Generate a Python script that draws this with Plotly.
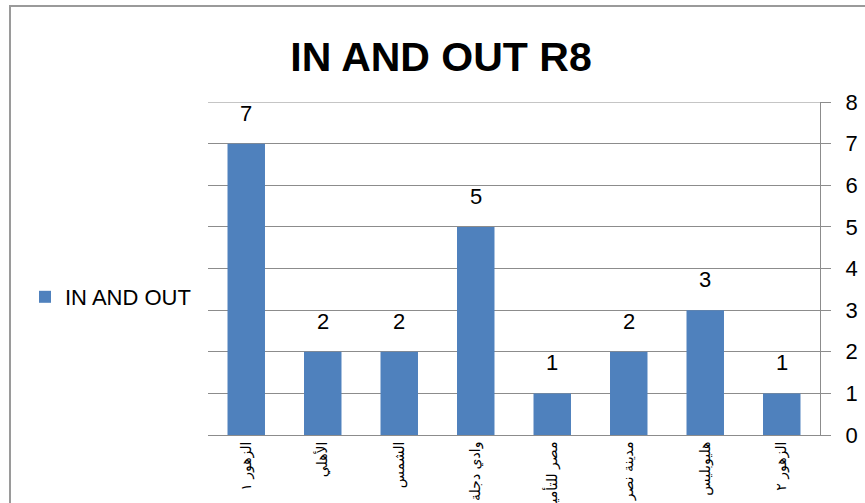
import plotly.graph_objects as go

categories = ["الزهور ١", "الأهلي", "الشمس", "وادي دجلة", "مصر للتأمين", "مدينة نصر", "هليوبليس", "الزهور ٢"]
values = [7, 2, 2, 5, 1, 2, 3, 1]
series_name = "IN AND OUT"
title_text = "IN AND OUT R8"
y_ticks = [0, 1, 2, 3, 4, 5, 6, 7, 8]

W, H = 865, 503
L, R, T, B = 208, 45, 102, 68
pw, ph = W - L - R, H - T - B

fig = go.Figure()
fig.add_trace(go.Bar(
    x=categories, y=values, name=series_name,
    marker=dict(color="#4F81BD", line=dict(width=0)),
    showlegend=True,
))
for c, v in zip(categories, values):
    fig.add_annotation(x=c, y=v, text=str(v), showarrow=False,
                       yanchor="bottom", yshift=16,
                       font=dict(family="Liberation Sans, Arial", size=22, color="#000000"))

grid = "#8c8c8c"
fig.update_layout(
    width=W, height=H,
    margin=dict(l=L, r=R, t=T, b=B, autoexpand=False),
    paper_bgcolor="white", plot_bgcolor="white",
    bargap=0.51,
    title=dict(text="<b>" + title_text + "</b>", x=441 / W, xanchor="center",
               y=1 - 57 / H, yanchor="middle",
               font=dict(family="Liberation Sans, Arial", size=41, color="#000000")),
    legend=dict(x=(25 - L) / pw, y=(H - B - 297) / ph, xanchor="left", yanchor="middle",
                font=dict(family="Liberation Sans, Arial", size=22, color="#000000"),
                bgcolor="rgba(0,0,0,0)", itemwidth=30),
    xaxis=dict(showline=True, linecolor=grid, linewidth=1, ticks="",
               tickangle=-90, automargin=False, showgrid=False,
               tickfont=dict(family="DejaVu Sans", size=14, color="#000000")),
    yaxis=dict(side="right", range=[0, 8], tickvals=y_ticks, showline=True, linecolor=grid,
               linewidth=1, ticks="outside", ticklen=10, tickcolor=grid, gridcolor=grid,
               gridwidth=1, zeroline=False, automargin=False, ticklabelstandoff=10,
               tickfont=dict(family="Liberation Sans, Arial", size=22, color="#000000")),
    shapes=[
        dict(type="path", xref="paper", yref="paper",
             path="M {x0},{y0} L {x1},{y1} L {x2},{y1}".format(
                 x0=(10 - L) / pw, y0=-(H + 10 - (H - B)) / ph,
                 x1=(10 - L) / pw, y1=(H - B - 6) / ph, x2=(W + 10 - L) / pw),
             line=dict(color="#9a9a9a", width=2)),
        dict(type="line", xref="paper", yref="y", x0=0, x1=1, y0=y_ticks[-1], y1=y_ticks[-1],
             line=dict(color=grid, width=1)),
    ],
)

fig.write_html("out.html", config={"displayModeBar": False},
               post_script="document.body.style.margin='0';")
